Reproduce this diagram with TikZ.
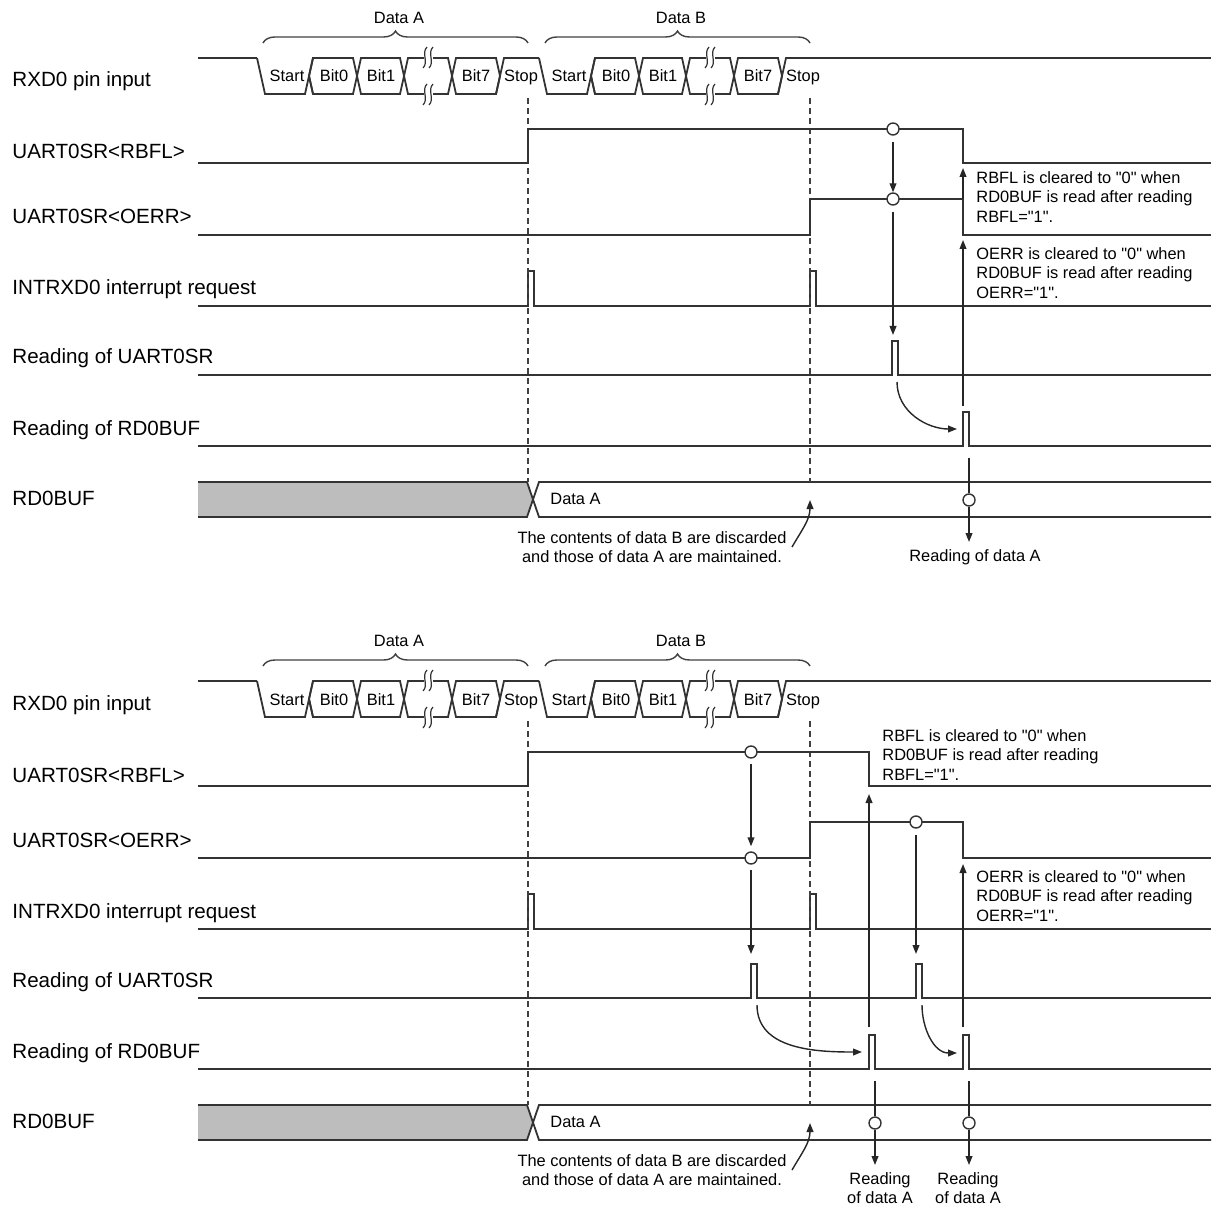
\documentclass[tikz,border=0pt]{standalone}
\usepackage{fontspec}
\setsansfont{Liberation Sans}
\usetikzlibrary{arrows.meta,positioning,decorations.pathreplacing}

\begin{document}
\begin{tikzpicture}[
  x=0.5pt, y=-0.5pt,
  font=\sffamily,
  wave/.style={line width=0.9pt,draw=black!80,line join=miter},
  lbl/.style={anchor=base west,inner sep=0pt,font=\sffamily\fontsize{10.3}{12}\selectfont},
  txt/.style={inner sep=0pt,font=\sffamily\fontsize{8.2}{9.8}\selectfont},
  note/.style={txt,align=left,anchor=north west},
  bit/.style={txt,anchor=base},
  guide/.style={line width=0.7pt,draw=black!75,dash pattern=on 3pt off 2pt},
  arrow/.style={-{Triangle[length=4.5pt,width=3.4pt]},line width=0.7pt,draw=black!85},
  link/.style={line width=0.7pt,draw=black!85},
  dot/.style={circle,draw=black!80,line width=0.7pt,fill=white,minimum size=6pt,inner sep=0pt},
  brc/.style={decorate,decoration={brace,amplitude=6pt},line width=0.7pt,draw=black!75}
]
\useasboundingbox (0,0) rectangle (1211,1213);

% frame shared by both cases
\foreach \dy/\p in {0/a,623/b}{
\begin{scope}[shift={(0,\dy)}]
  \node[lbl] (\p-rxd) at (12,87) {RXD0 pin input};
  \node[lbl] (\p-rbfl) at (12,159) {UART0SR<RBFL>};
  \node[lbl] (\p-oerr) at (12,224) {UART0SR<OERR>};
  \node[lbl] (\p-int) at (12,295) {INTRXD0 interrupt request};
  \node[lbl] (\p-rsr) at (12,364) {Reading of UART0SR};
  \node[lbl] (\p-rbuf) at (12,435) {Reading of RD0BUF};
  \node[lbl] (\p-buf) at (12,505) {RD0BUF};

  % serial input, data A then data B
  \draw[brc] (263,43) -- (528,43);
  \draw[brc] (545,43) -- (810,43);
  \node[txt] (\p-da) at (399,18) {Data A};
  \node[txt] (\p-db) at (681,18) {Data B};
  \draw[wave] (198,58) -- (257,58);
  \draw[wave] (786,58) -- (1211,58);
  \foreach \s/\q in {0/A,282/B}{
    \draw[wave] (257+\s,58) -- (265+\s,94) -- (305+\s,94) -- (313+\s,58);
    \draw[wave] (309+\s,76) -- (313+\s,94);
    \foreach \l/\r in {309/357,357/404,452/500}
      \draw[wave] (\l+\s,76) -- (\l+4+\s,58) -- (\r-4+\s,58) -- (\r+\s,76)
        -- (\r-4+\s,94) -- (\l+4+\s,94) -- cycle;
    \draw[wave] (424+\s,58) -- (408+\s,58) -- (404+\s,76) -- (408+\s,94) -- (424+\s,94);
    \draw[wave] (433+\s,58) -- (448+\s,58) -- (452+\s,76) -- (448+\s,94) -- (433+\s,94);
    \foreach \m in {425,431}{
      \draw[wave,line width=0.6pt] (\m+\s+2,47) .. controls (\m+\s-4,53) and (\m+\s+4,62) .. (\m+\s-2,68);
      \draw[wave,line width=0.6pt] (\m+\s+2,84) .. controls (\m+\s-4,90) and (\m+\s+4,99) .. (\m+\s-2,105);
    }
    \draw[wave] (496+\s,94) -- (504+\s,58) -- (539+\s,58);
    \node[bit] (\p-\q-start) at (287+\s,82) {Start};
    \node[bit] (\p-\q-b0) at (334+\s,82) {Bit0};
    \node[bit] (\p-\q-b1) at (381+\s,82) {Bit1};
    \node[bit] (\p-\q-b7) at (476+\s,82) {Bit7};
    \node[bit] (\p-\q-stop) at (521+\s,82) {Stop};
  }

  % receive interrupts
  \draw[wave] (198,306) -- (528,306) -- ++(0,-35) -- ++(6,0) -- ++(0,35)
    -- (810,306) -- ++(0,-35) -- ++(6,0) -- ++(0,35) -- (1211,306);

  % receive buffer
  \fill[black!26] (198,482) -- (527,482) -- (533,499.5) -- (527,517) -- (198,517) -- cycle;
  \draw[wave] (198,482) -- (527,482) -- (539,517) -- (1211,517);
  \draw[wave] (198,517) -- (527,517) -- (539,482) -- (1211,482);
  \node[txt,anchor=base west] (\p-bufa) at (550,504) {Data A};

  \draw[guide] (528,98) -- (528,482);
  \draw[guide] (810,98) -- (810,482);

  \node[txt,align=center,anchor=north] (\p-lost) at (652,531)
    {The contents of data B are discarded\\and those of data A are maintained.};
  \coordinate (\p-lt) at (792,547);
  \coordinate (\p-lh) at (810,500);
  \draw[arrow] (\p-lt) to[out=60,in=-90] (\p-lh);
\end{scope}
}

% first case: one status read
\draw[wave] (198,163) -- (528,163) -- (528,129) -- (963,129) -- (963,163) -- (1211,163);
\draw[wave] (198,235) -- (810,235) -- (810,199) -- (963,199) -- (963,235) -- (1211,235);
\draw[wave] (198,375) -- (892,375) -- ++(0,-34) -- ++(6,0) -- ++(0,34) -- (1211,375);
\draw[wave] (198,446) -- (963,446) -- ++(0,-34) -- ++(6,0) -- ++(0,34) -- (1211,446);

\node[dot] (a-rb) at (893,129) {};
\node[dot] (a-oe) at (893,199) {};
\coordinate (a-sr) at (893,335);
\draw[arrow,shorten <=3pt] (a-rb) -- (a-oe);
\draw[arrow,shorten <=3pt] (a-oe) -- (a-sr);

\coordinate (a-c1) at (897,382);
\coordinate (a-c2) at (957,429);
\draw[arrow] (a-c1) to[out=-90,in=180] (a-c2);

\coordinate (a-up1) at (963,406);
\coordinate (a-up2) at (963,240);
\coordinate (a-up3) at (963,199);
\coordinate (a-up4) at (963,168);
\draw[arrow] (a-up1) -- (a-up2);
\draw[arrow] (a-up3) -- (a-up4);
\node[note] (a-nrb) at (976,171) {RBFL is cleared to \textquotedbl0\textquotedbl{} when\\RD0BUF is read after reading\\RBFL=\textquotedbl1\textquotedbl.};
\node[note] (a-noe) at (976,247) {OERR is cleared to \textquotedbl0\textquotedbl{} when\\RD0BUF is read after reading\\OERR=\textquotedbl1\textquotedbl.};

\coordinate (a-dn) at (969,458);
\node[dot] (a-get) at (969,500) {};
\coordinate (a-out) at (969,542);
\draw[link] (a-dn) -- (a-get);
\draw[arrow] (a-get) -- (a-out);
\node[txt,anchor=north] (a-read) at (975,549) {Reading of data A};

% second case: status read twice
\begin{scope}[shift={(0,623)}]
\draw[wave] (198,163) -- (528,163) -- (528,129) -- (869,129) -- (869,163) -- (1211,163);
\draw[wave] (198,235) -- (810,235) -- (810,199) -- (963,199) -- (963,235) -- (1211,235);
\draw[wave] (198,375) -- (751,375) -- ++(0,-34) -- ++(6,0) -- ++(0,34)
  -- (916,375) -- ++(0,-34) -- ++(6,0) -- ++(0,34) -- (1211,375);
\draw[wave] (198,446) -- (869,446) -- ++(0,-34) -- ++(6,0) -- ++(0,34)
  -- (963,446) -- ++(0,-34) -- ++(6,0) -- ++(0,34) -- (1211,446);

\node[dot] (b-rb) at (751,129) {};
\node[dot] (b-oe) at (751,235) {};
\node[dot] (b-oe2) at (916,199) {};
\coordinate (b-sr1) at (751,331);
\coordinate (b-sr2) at (916,331);
\draw[arrow,shorten <=2.5pt,shorten >=2.5pt] (b-rb) -- (b-oe);
\draw[arrow,shorten <=2.5pt] (b-oe) -- (b-sr1);
\draw[arrow,shorten <=3pt] (b-oe2) -- (b-sr2);

\coordinate (b-c1) at (757,382);
\coordinate (b-c2) at (862,429);
\coordinate (b-c3) at (922,382);
\coordinate (b-c4) at (957,430);
\draw[arrow] (b-c1) to[out=-90,in=180] (b-c2);
\draw[arrow] (b-c3) to[out=-90,in=180] (b-c4);

\coordinate (b-up1) at (869,404);
\coordinate (b-up2) at (869,171);
\coordinate (b-up3) at (963,404);
\coordinate (b-up4) at (963,241);
\draw[arrow] (b-up1) -- (b-up2);
\draw[arrow] (b-up3) -- (b-up4);
\node[note] (b-nrb) at (882,106) {RBFL is cleared to \textquotedbl0\textquotedbl{} when\\RD0BUF is read after reading\\RBFL=\textquotedbl1\textquotedbl.};
\node[note] (b-noe) at (976,247) {OERR is cleared to \textquotedbl0\textquotedbl{} when\\RD0BUF is read after reading\\OERR=\textquotedbl1\textquotedbl.};

\coordinate (b-dn1) at (875,458);
\node[dot] (b-get1) at (875,500) {};
\coordinate (b-out1) at (875,542);
\coordinate (b-dn2) at (969,458);
\node[dot] (b-get2) at (969,500) {};
\coordinate (b-out2) at (969,542);
\draw[link] (b-dn1) -- (b-get1);
\draw[arrow] (b-get1) -- (b-out1);
\draw[link] (b-dn2) -- (b-get2);
\draw[arrow] (b-get2) -- (b-out2);
\node[txt,align=center,anchor=north] (b-read1) at (880,549) {Reading\\of data A};
\node[txt,align=center,anchor=north] (b-read2) at (968,549) {Reading\\of data A};
\end{scope}
\end{tikzpicture}
\end{document}
